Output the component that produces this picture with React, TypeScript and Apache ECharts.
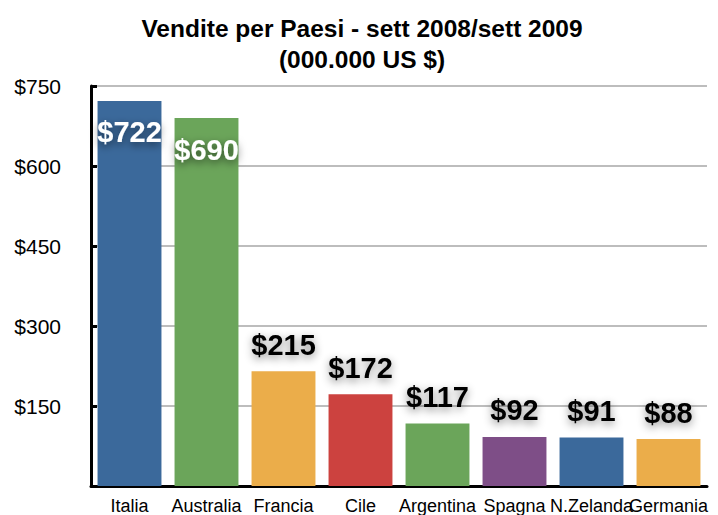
import React, { useEffect, useRef } from "react";
import * as echarts from "echarts";

const categories = ["Italia", "Australia", "Francia", "Cile", "Argentina", "Spagna", "N.Zelanda", "Germania"];
const values = [722, 690, 215, 172, 117, 92, 91, 88];
const colors = ["#3b699b", "#6ba55a", "#ebad4a", "#cc423f", "#6ba55a", "#7e4e87", "#3b699b", "#ebad4a"];
const insideLabel = [true, true, false, false, false, false, false, false];

const FONT = "'Liberation Sans', Arial, Helvetica, sans-serif";

export default function App() {
  const ref = useRef<HTMLDivElement>(null);
  useEffect(() => {
    if (!ref.current) return;
    const chart = echarts.init(ref.current, null, { renderer: "svg" });
    chart.setOption({
      animation: false,
      backgroundColor: "#ffffff",
      title: {
        text: "Vendite per Paesi - sett 2008/sett 2009\n(000.000 US $)",
        left: 357,
        textAlign: "center",
        top: 8,
        textStyle: { fontFamily: FONT, fontSize: 24.5, fontWeight: "bold", color: "#000", lineHeight: 31 },
      },
      grid: { left: 91, right: 11, top: 86, bottom: 29, containLabel: false },
      xAxis: {
        type: "category",
        data: categories,
        axisLine: { lineStyle: { color: "#000", width: 3 } },
        axisTick: { show: false },
        axisLabel: { interval: 0, color: "#000", fontFamily: FONT, fontSize: 18, margin: 11 },
      },
      yAxis: {
        type: "value",
        min: 0,
        max: 750,
        interval: 150,
        axisLine: { show: true, lineStyle: { color: "#000", width: 3 } },
        axisTick: { show: true, inside: true, length: 6, lineStyle: { color: "#000", width: 3 } },
        axisLabel: {
          showMinLabel: false,
          color: "#000",
          fontFamily: FONT,
          fontSize: 21,
          margin: 30,
          formatter: (v: number) => "$" + v,
        },
        splitLine: { lineStyle: { color: "#bdbdbd", width: 2 } },
      },
      series: [
        {
          type: "bar",
          barCategoryGap: "17%",
          data: values.map((v, i) => ({
            value: v,
            itemStyle: { color: colors[i] },
            label: insideLabel[i]
              ? {
                  show: true,
                  position: "insideTop",
                  distance: 17,
                  color: "#fff",
                  fontFamily: FONT,
                  fontSize: 29,
                  fontWeight: "bold",
                  textShadowColor: "rgba(0,0,0,0.55)",
                  textShadowBlur: 8,
                  textShadowOffsetY: 3,
                  formatter: "${c}",
                }
              : {
                  show: true,
                  position: "top",
                  distance: 12,
                  color: "#000",
                  fontFamily: FONT,
                  fontSize: 29,
                  fontWeight: "bold",
                  textShadowColor: "rgba(0,0,0,0.45)",
                  textShadowBlur: 8,
                  textShadowOffsetY: 3,
                  formatter: "${c}",
                },
          })),
        },
      ],
    });
    return () => chart.dispose();
  }, []);
  return <div ref={ref} style={{ position: "fixed", left: 0, top: 0, width: 718, height: 515 }} />;
}
